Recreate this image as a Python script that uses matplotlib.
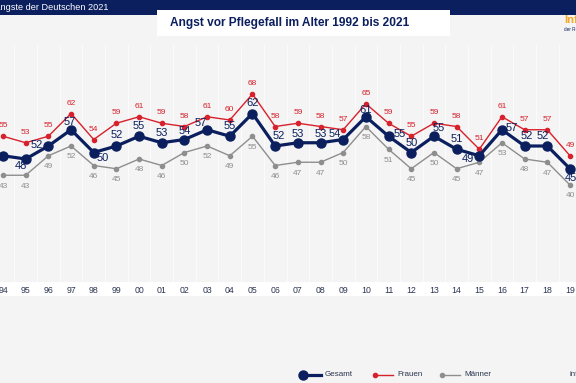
import matplotlib
matplotlib.use("Agg")
import matplotlib.pyplot as plt
from matplotlib.patches import Rectangle
from matplotlib.lines import Line2D

plt.rcParams['font.family'] = ['Liberation Sans', 'DejaVu Sans']

years = list(range(1994, 2020))
tick_labels = [str(y)[-2:] for y in years]

gesamt = [49, 48, 52, 57, 50, 52, 55, 53, 54, 57, 55, 62, 52, 53, 53, 54,
          61, 55, 50, 55, 51, 49, 57, 52, 52, 45]
frauen = [55, 53, 55, 62, 54, 59, 61, 59, 58, 61, 60, 68, 58, 59, 58, 57,
          65, 59, 55, 59, 58, 51, 61, 57, 57, 49]
maenner = [43, 43, 49, 52, 46, 45, 48, 46, 50, 52, 49, 55, 46, 47, 47, 50,
           58, 51, 45, 50, 45, 47, 53, 48, 47, 40]

NAVY = '#0b1f5e'
RED = '#d7212c'
GREY = '#8e8e8e'
BG = '#f4f4f4'

W, H = 576, 383
fig = plt.figure(figsize=(W / 100, H / 100), dpi=100, facecolor=BG)

def fx(px):
    return px / W

def fy(py):
    return 1 - py / H

# header bar and title box
fig.patches.append(Rectangle((0, fy(15)), 1, 15 / H, transform=fig.transFigure,
                             facecolor=NAVY, edgecolor='none', zorder=-2))
fig.text(fx(108), fy(7.5), 'Die Ängste der Deutschen 2021', color='white',
         fontsize=6.6, ha='right', va='center')
fig.patches.append(Rectangle((fx(157), fy(36)), fx(293), 26 / H, transform=fig.transFigure,
                             facecolor='white', edgecolor='none', zorder=-2))
fig.text(fx(170), fy(23), 'Angst vor Pflegefall im Alter 1992 bis 2021', color=NAVY,
         fontsize=8.6, fontweight='bold', ha='left', va='center')
fig.text(fx(564), fy(20), 'Infocenter', color='#f5a623', fontsize=8,
         fontweight='bold', ha='left', va='center')
fig.text(fx(564), fy(29), 'der R+V Versicherung', color=NAVY, fontsize=3.3,
         ha='left', va='center')

# tick label band, behind the axes
fig.patches.append(Rectangle((0, fy(296)), 1, 14 / H, transform=fig.transFigure,
                             facecolor='white', edgecolor='none', zorder=-2))

# plot area: pixel rows 45..282
top_px, bot_px = 45, 282
ax = fig.add_axes([0, fy(bot_px), 1, (bot_px - top_px) / H])
ax.set_facecolor(BG)
px_per_year = (570 - 3) / 25
ax.set_xlim(1994 - 3 / px_per_year, 1994 + (W - 3) / px_per_year)
px_per_unit = 3.25
ax.set_ylim(68 - (bot_px - 94) / px_per_unit, 68 + (94 - top_px) / px_per_unit)
for s in ax.spines.values():
    s.set_visible(False)
ax.set_yticks([])

for y in years + [1993]:
    ax.axvline(y + 0.5, color='white', lw=0.6, alpha=0.8, zorder=0)

ax.set_xticks(years)
ax.set_xticklabels(tick_labels, fontsize=6.3, color='#2b3550')
ax.tick_params(axis='x', length=0, pad=3.2)

ax.plot(years, maenner, color=GREY, lw=1, marker='o', ms=3, zorder=2)
ax.plot(years, frauen, color=RED, lw=1, marker='o', ms=3, zorder=3)
ax.plot(years, gesamt, color=NAVY, lw=2.3, marker='o', ms=6.5, zorder=4)

# label offsets for Gesamt in pixels (dx right, dy down)
g_off = [(-11, 0), (-5, 7), (-12, -1), (-1, -8), (9, 5), (0, -11), (0, -10), (0, -10),
         (0, -9), (-6, -7), (0, -10), (0, -11), (4, -10), (0, -9), (0, -9), (-8, -6),
         (0, -7), (11, -2), (0, -10), (5, -8), (0, -10), (-11, 3), (10, -2), (2, -10),
         (-5, -10), (1, 9)]

for x, v, (dx, dy) in zip(years, gesamt, g_off):
    ax.annotate(str(v), (x, v), xytext=(dx * 0.72, -dy * 0.72), textcoords='offset points',
                ha='center', va='center', fontsize=8, color=NAVY, zorder=5)
for x, v in zip(years, frauen):
    ax.annotate(str(v), (x, v), xytext=(0, 7.4), textcoords='offset points',
                ha='center', va='center', fontsize=6, color=RED, zorder=5)
for x, v in zip(years, maenner):
    ax.annotate(str(v), (x, v), xytext=(0, -7.8), textcoords='offset points',
                ha='center', va='center', fontsize=6, color=GREY, zorder=5)

# legend drawn by hand
legend_items = [('Gesamt', NAVY, 2.3, 6.5), ('Frauen', RED, 1, 3), ('Männer', GREY, 1, 3)]
leg_x = [303, 375, 442]
for (name, col, lw, ms), x0 in zip(legend_items, leg_x):
    fig.add_artist(Line2D([fx(x0), fx(x0 + 18)], [fy(375), fy(375)], color=col, lw=lw,
                          transform=fig.transFigure))
    fig.add_artist(Line2D([fx(x0)], [fy(375)], color=col, marker='o', ms=ms,
                          transform=fig.transFigure))
    fig.text(fx(x0 + 22), fy(375), name, fontsize=5.8, color='#2b3550', ha='left', va='center')
fig.text(fx(570), fy(375), 'infocenter', fontsize=5.8, color='#2b3550', ha='left', va='center')

fig.savefig('out.png', dpi=100, facecolor=BG)
